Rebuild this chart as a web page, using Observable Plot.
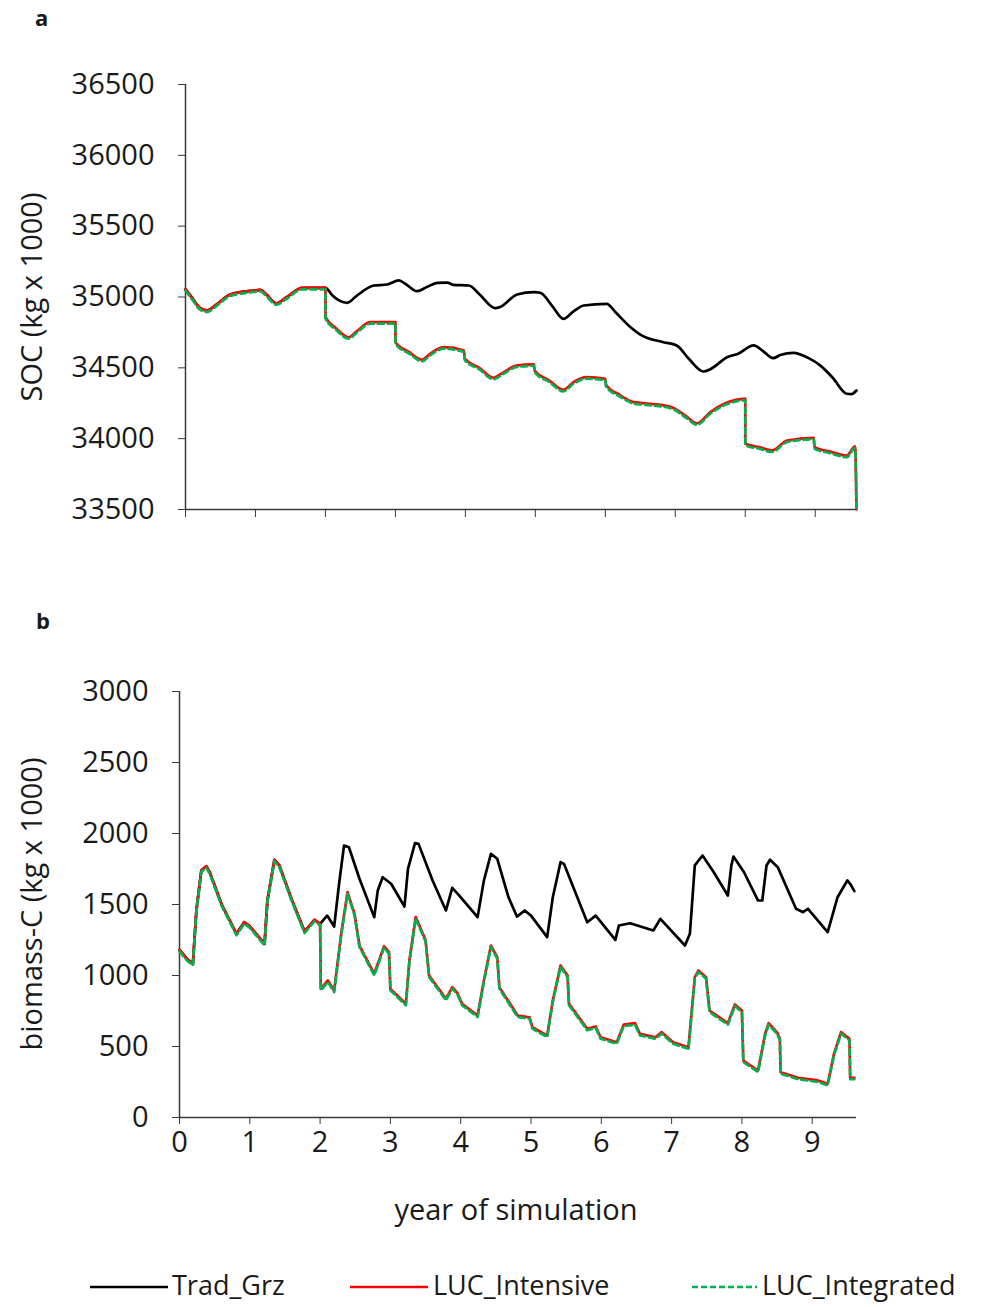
<!DOCTYPE html>
<html><head><meta charset="utf-8">
<script src="https://cdn.jsdelivr.net/npm/d3@7"></script>
<script src="https://cdn.jsdelivr.net/npm/@observablehq/plot@0.6"></script>
<style>
body{margin:0;background:#fff;font-family:"Open Sans",sans-serif;color:#1a1a1a}
#wrap{position:relative;width:992px;height:1307px;overflow:hidden;background:#fff}
</style></head><body><div id="wrap"></div>
<script>
// ---------- data ----------
const yearTicks = [0,1,2,3,4,5,6,7,8,9];
const socTicks = [33500,34000,34500,35000,35500,36000,36500];
const bioTicks = [0,500,1000,1500,2000,2500,3000];
const seriesNames = ["Trad_Grz","LUC_Intensive","LUC_Integrated"];

// Panel a: SOC (kg x 1000)
const socTradYears = [0,0.1,0.2,0.31,0.45,0.64,0.98,1.07,1.15,1.3,1.45,1.67,2.0,2.1,2.31,2.45,2.69,2.88,3.05,3.15,3.31,3.45,3.6,3.74,3.83,4.05,4.2,4.43,4.5,4.74,4.98,5.07,5.25,5.4,5.55,5.69,6.02,6.15,6.36,6.5,6.83,7.02,7.2,7.4,7.5,7.74,7.9,8.12,8.25,8.4,8.5,8.69,8.9,9.07,9.25,9.45,9.52,9.59];
const socTrad = [35055,34990,34925,34905,34950,35018,35046,35050,35020,34956,35000,35065,35065,35010,34959,35010,35081,35088,35117,35090,35041,35070,35100,35102,35086,35081,35020,34921,34930,35018,35034,35030,34930,34846,34900,34940,34952,34890,34787,34735,34681,34658,34560,34474,34490,34575,34600,34658,34620,34568,34590,34606,34570,34517,34430,34317,34315,34340];
const socLucYears = [0,0.1,0.2,0.31,0.45,0.64,0.98,1.07,1.15,1.3,1.45,1.67,2.0,2.001,2.15,2.33,2.45,2.64,3.0,3.001,3.2,3.38,3.5,3.69,3.98,3.99,4.2,4.4,4.55,4.74,4.98,4.99,5.2,5.4,5.55,5.73,6.0,6.01,6.2,6.41,6.65,6.95,7.15,7.31,7.5,7.7,8.0,8.001,8.2,8.38,8.6,8.98,8.99,9.2,9.45,9.57,9.59];
const socLuc = [35055,34990,34925,34905,34950,35018,35046,35050,35020,34956,35000,35065,35065,34858,34780,34716,34760,34822,34822,34681,34610,34557,34600,34646,34622,34566,34500,34430,34470,34517,34524,34481,34410,34345,34400,34434,34423,34380,34310,34258,34246,34222,34160,34109,34187,34246,34281,33964,33940,33917,33987,34006,33940,33910,33881,33945,33500];

// Panel b: biomass-C (kg x 1000)
const bioTradYears = [0,0.1,0.19,0.24,0.31,0.38,0.43,0.6,0.81,0.92,0.99,1.21,1.25,1.35,1.42,1.6,1.78,1.92,2.0,2.1,2.2,2.27,2.34,2.41,2.56,2.77,2.82,2.89,3.01,3.2,3.25,3.35,3.4,3.6,3.79,3.88,3.98,4.24,4.33,4.43,4.52,4.68,4.8,4.91,5.0,5.23,5.31,5.42,5.47,5.8,5.92,6.2,6.25,6.41,6.74,6.84,7.19,7.26,7.33,7.44,7.6,7.8,7.85,7.88,8.03,8.23,8.29,8.35,8.4,8.51,8.77,8.87,8.94,9.22,9.36,9.5,9.54,9.6];
const bioTrad = [1180,1120,1082,1458,1739,1770,1727,1500,1294,1375,1352,1223,1528,1815,1775,1530,1310,1392,1364,1422,1345,1646,1915,1903,1681,1411,1598,1692,1646,1486,1751,1932,1927,1669,1458,1617,1563,1411,1669,1857,1822,1551,1415,1458,1422,1270,1551,1798,1786,1375,1422,1251,1352,1368,1317,1399,1211,1294,1775,1845,1727,1563,1775,1838,1727,1528,1528,1775,1815,1763,1470,1446,1470,1305,1551,1669,1646,1594];
const bioLucYears = [0,0.1,0.19,0.24,0.31,0.38,0.43,0.6,0.81,0.92,0.99,1.21,1.25,1.35,1.42,1.6,1.78,1.92,2.0,2.01,2.11,2.2,2.3,2.39,2.49,2.56,2.77,2.91,2.98,3.0,3.22,3.27,3.36,3.5,3.55,3.79,3.88,3.95,4.02,4.24,4.33,4.43,4.52,4.55,4.81,4.98,5.02,5.23,5.31,5.42,5.52,5.54,5.8,5.92,5.99,6.22,6.32,6.48,6.55,6.77,6.86,7.02,7.24,7.33,7.38,7.49,7.54,7.8,7.9,8.0,8.02,8.23,8.33,8.38,8.5,8.54,8.55,8.8,9.08,9.22,9.31,9.41,9.53,9.54,9.6];
const bioLuc = [1180,1120,1082,1458,1739,1770,1727,1500,1294,1375,1352,1223,1528,1815,1775,1530,1310,1392,1364,906,965,894,1294,1587,1434,1211,1012,1206,1164,906,801,1106,1411,1250,1000,836,918,880,801,718,965,1211,1129,918,718,706,636,577,824,1070,1000,801,625,641,565,530,655,664,589,565,601,530,495,988,1035,988,753,664,796,753,401,331,589,664,600,554,319,280,261,237,449,601,554,280,280];

// ---------- helpers ----------
const rows = (xs, ys) => xs.map((x, i) => ({x, y: ys[i]}));
const wrap = document.getElementById("wrap");
function place(el, left, top) {
  el.style.position = "absolute"; el.style.left = left + "px"; el.style.top = top + "px";
  wrap.appendChild(el); return el;
}
function label(text, left, top, css) {
  const d = document.createElement("div");
  d.textContent = text;
  d.style.whiteSpace = "nowrap";
  d.style.lineHeight = "1";
  Object.assign(d.style, css || {});
  return place(d, left, top);
}
const axisColor = "#3a3a3a";
const baseStyle = {fontFamily: "Open Sans, sans-serif", fontSize: "29px", color: "#1a1a1a", background: "transparent", overflow: "visible"};
const colors = {Trad_Grz: "#000000", LUC_Intensive: "#ff0000", LUC_Integrated: "#00b050"};

function seriesMarks(trad, luc, curve) {
  return [
    Plot.line(trad, {x: "x", y: "y", curve, stroke: colors.Trad_Grz, strokeWidth: 2.7}),
    Plot.line(luc, {x: "x", y: "y", curve, stroke: colors.LUC_Intensive, strokeWidth: 2.7}),
    Plot.line(luc, {x: "x", y: "y", curve, stroke: colors.LUC_Integrated, strokeWidth: 2.7, strokeDasharray: "6,4", dy: 1.5})
  ];
}

// ---------- panel a ----------
const chartA = Plot.plot({
  width: 992, height: 540,
  marginTop: 84, marginBottom: 31, marginLeft: 185, marginRight: 136,
  x: {domain: [0, 9.59]},
  y: {domain: [33500, 36500]},
  style: baseStyle,
  marks: [
    Plot.axisY({ticks: socTicks, tickSize: 7, tickPadding: 24, tickFormat: d => String(d), label: null, stroke: axisColor}),
    Plot.axisX({ticks: yearTicks, tickSize: 8, tickFormat: () => "", label: null, stroke: axisColor}),
    Plot.ruleX([0], {stroke: axisColor, strokeWidth: 1.5}),
    Plot.ruleY([33500], {stroke: axisColor, strokeWidth: 1.5}),
    ...seriesMarks(rows(socTradYears, socTrad), rows(socLucYears, socLuc), "monotone-x")
  ]
});
place(chartA, 0, 0);

// ---------- panel b ----------
const chartB = Plot.plot({
  width: 992, height: 630,
  marginTop: 91, marginBottom: 113, marginLeft: 179, marginRight: 136,
  x: {domain: [0, 9.63]},
  y: {domain: [0, 3000]},
  style: baseStyle,
  marks: [
    Plot.axisY({ticks: bioTicks, tickSize: 7, tickPadding: 24, tickFormat: d => String(d), label: null, stroke: axisColor}),
    Plot.axisX({ticks: yearTicks, tickSize: 7, tickPadding: 7, tickFormat: d => String(d), label: null, stroke: axisColor}),
    Plot.ruleX([0], {stroke: axisColor, strokeWidth: 1.5}),
    Plot.ruleY([0], {stroke: axisColor, strokeWidth: 1.5}),
    ...seriesMarks(rows(bioTradYears, bioTrad), rows(bioLucYears, bioLuc), "linear")
  ]
});
place(chartB, 0, 600);

// ---------- text ----------
label("a", 35, 6, {fontSize: "22px", fontWeight: "bold", fontFamily: "Open Sans, sans-serif"});
label("b", 36, 609, {fontSize: "22px", fontWeight: "bold", fontFamily: "Open Sans, sans-serif"});
const rot = {fontSize: "29px", transform: "translate(-50%,-50%) rotate(-90deg)", transformOrigin: "center"};
label("SOC (kg x 1000)", 30, 297, rot);
label("biomass-C (kg x 1000)", 30, 904, rot);
label("year of simulation", 516, 1208, {fontSize: "29px", transform: "translate(-50%,-50%)"});

// ---------- legend ----------
const legendItems = [
  {name: seriesNames[0], x0: 90, x1: 168, tx: 172, dash: null},
  {name: seriesNames[1], x0: 350, x1: 428, tx: 433, dash: null},
  {name: seriesNames[2], x0: 692, x1: 757, tx: 762, dash: "6,3"}
];
for (const it of legendItems) {
  const svg = d3.create("svg").attr("width", it.x1 - it.x0).attr("height", 6);
  svg.append("line").attr("x1", 0).attr("x2", it.x1 - it.x0).attr("y1", 3).attr("y2", 3)
    .attr("stroke", colors[it.name]).attr("stroke-width", 2.7)
    .attr("stroke-dasharray", it.dash);
  const n = svg.node(); n.style.display = "block";
  place(n, it.x0, 1284);
  label(it.name, it.tx, 1284, {fontSize: "27px", transform: "translateY(-50%)"});
}
</script></body></html>
